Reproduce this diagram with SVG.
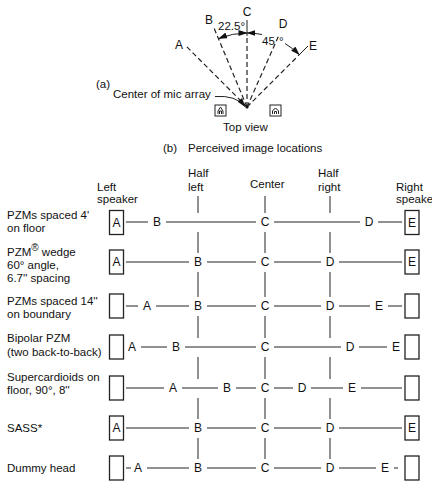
<svg xmlns="http://www.w3.org/2000/svg" width="432" height="496" viewBox="0 0 432 496">
<defs>
<style>
text{font-family:"Liberation Sans",Arial,Helvetica,sans-serif;fill:#111;font-size:11.5px}
.l{font-size:12px;text-anchor:middle}
.ln{stroke:#222;stroke-width:1;fill:none}
.ds{stroke:#222;stroke-width:1.2;fill:none;stroke-dasharray:5,3}
.bx{stroke:#222;stroke-width:1.3;fill:#fff}
.ic{stroke:#222;stroke-width:1;fill:none}
</style>
<marker id="ah" markerUnits="userSpaceOnUse" markerWidth="9" markerHeight="6" refX="8.5" refY="3" orient="auto-start-reverse" viewBox="0 0 9 6">
<path d="M0,0 L9,3 L0,6 z" fill="#111"/>
</marker>
</defs>
<rect width="432" height="496" fill="#fff"/>

<!-- (a) top view -->
<g id="top-view">
<text x="96" y="88">(a)</text>
<g id="rays">
<path class="ds" d="M247 107 L186 46"/>
<path class="ds" d="M247 107 L214 28"/>
<path class="ds" d="M247 107 L247 36"/>
<path class="ln" d="M247 36 L247 20"/>
<path class="ds" d="M247 107 L279 35"/>
<path class="ds" d="M247 107 L298 56"/>
<path class="ln" d="M298 56 L308 46" stroke-width="1.3"/>
</g>
<text class="l" x="179" y="48.5">A</text>
<text class="l" x="209" y="23.5">B</text>
<text class="l" x="247" y="16">C</text>
<text class="l" x="283" y="27.5">D</text>
<text class="l" x="313" y="49.5">E</text>
<text x="218" y="29.5" font-size="11">22.5°</text>
<text x="262" y="44.5" font-size="11">45</text>
<text x="279" y="44.5" font-size="11">°</text>
<g id="arcs">
<path class="ln" stroke-width="1.3" d="M247 33 A74 74 0 0 0 218.7 38.6" marker-start="url(#ah)" marker-end="url(#ah)"/>
<path class="ln" stroke-width="1.3" d="M247 33 A74 74 0 0 1 262 34.5" marker-start="url(#ah)"/>
<path class="ln" stroke-width="1.3" d="M285.1 43.6 A74 74 0 0 1 299.3 54.7" marker-end="url(#ah)"/>
</g>
<text x="113" y="98">Center of mic array</text>
<path class="ln" d="M215 96.5 Q236 95 245 106.5" marker-end="url(#ah)"/>
<circle cx="247" cy="107" r="1.6" fill="#111"/>
<g id="spk-left-icon">
<rect class="ic" x="215" y="105" width="11" height="11" stroke-width="1.3"/>
<path class="ic" d="M218 114 L218 111 L220.5 107 L223 111 L223 114 M219.5 114 L219.5 111 L221.5 111 L221.5 114"/>
</g>
<g id="spk-right-icon">
<rect class="ic" x="270" y="105" width="11" height="11" stroke-width="1.3"/>
<path class="ic" d="M272.5 114 L272.5 111 Q275.5 106 278.5 111 L278.5 114 M274.5 114 L274.5 111.5 L276.5 111.5 L276.5 114"/>
</g>
<text x="223" y="131">Top view</text>
</g>

<!-- (b) title -->
<text x="163" y="152">(b)</text>
<text x="188" y="152">Perceived image locations</text>

<!-- column headers -->
<g id="headers">
<text x="97" y="191">Left</text>
<text x="97" y="203">speaker</text>
<text x="188" y="177">Half</text>
<text x="188" y="191">left</text>
<text x="250" y="188">Center</text>
<text x="318" y="177">Half</text>
<text x="318" y="191">right</text>
<text x="396" y="191">Right</text>
<text x="396" y="203">speaker</text>
</g>

<!-- row labels -->
<g id="row-labels">
<text x="7" y="219">PZMs spaced 4'</text>
<text x="7" y="232">on floor</text>
<text x="7" y="256">PZM<tspan font-size="10" dy="-5">®</tspan><tspan dy="5">  wedge</tspan></text>
<text x="7" y="269">60° angle,</text>
<text x="7" y="282">6.7'' spacing</text>
<text x="7" y="305">PZMs spaced 14''</text>
<text x="7" y="318">on boundary</text>
<text x="7" y="342">Bipolar PZM</text>
<text x="7" y="356">(two back-to-back)</text>
<text x="7" y="381">Supercardioids on</text>
<text x="7" y="394">floor, 90°, 8''</text>
<text x="7" y="432">SASS*</text>
<text x="7" y="472">Dummy head</text>
</g>

<!-- connectors -->
<g id="connectors">
<path class="ln" d="M198 196 V213 M198 232 V253 M198 272 V297 M198 316 V338 M198 357 V379 M198 398 V419 M198 438 V459"/>
<path class="ln" d="M265 196 V213 M265 232 V253 M265 272 V297 M265 316 V338 M265 357 V379 M265 398 V419 M265 438 V459"/>
<path class="ln" d="M330 196 V213 M330 232 V253 M330 272 V297 M330 316 V338 M330 357 V379 M330 398 V419 M330 438 V459"/>
<path class="ln" d="M126 222 H148 M166 222 H256 M274 222 H360 M378 222 H402"/>
<path class="ln" d="M126 262 H189 M207 262 H256 M274 262 H321 M339 262 H402"/>
<path class="ln" d="M126 306 H138 M156 306 H189 M207 306 H256 M274 306 H321 M339 306 H370 M388 306 H402"/>
<path class="ln" d="M141 347 H167 M185 347 H256 M274 347 H341 M359 347 H387"/>
<path class="ln" d="M126 388 H164 M182 388 H218 M236 388 H256 M274 388 H293 M311 388 H343 M361 388 H402"/>
<path class="ln" d="M126 428 H189 M207 428 H256 M274 428 H321 M339 428 H402"/>
<path class="ln" d="M126 468 H131 M147 468 H189 M207 468 H256 M274 468 H321 M339 468 H376 M394 468 H398"/>
</g>

<!-- speaker boxes -->
<g id="boxes">
<g id="row1-left"><rect class="bx" x="109.5" y="210.5" width="14" height="24"/><text class="l" x="116.5" y="226.5">A</text></g>
<g id="row1-right"><rect class="bx" x="405" y="210.5" width="14" height="24"/><text class="l" x="412" y="226.5">E</text></g>
<g id="row2-left"><rect class="bx" x="109.5" y="250" width="14" height="24"/><text class="l" x="116.5" y="266">A</text></g>
<g id="row2-right"><rect class="bx" x="405" y="250" width="14" height="24"/><text class="l" x="412" y="266">E</text></g>
<g id="row3-left"><rect class="bx" x="109.5" y="294" width="14" height="24"/></g>
<g id="row3-right"><rect class="bx" x="405" y="294" width="14" height="24"/></g>
<g id="row4-left"><rect class="bx" x="109.5" y="335" width="14" height="24"/></g>
<g id="row4-right"><rect class="bx" x="405" y="335" width="14" height="24"/></g>
<g id="row5-left"><rect class="bx" x="109.5" y="376" width="14" height="24"/></g>
<g id="row5-right"><rect class="bx" x="405" y="376" width="14" height="24"/></g>
<g id="row6-left"><rect class="bx" x="109.5" y="416" width="14" height="24"/><text class="l" x="116.5" y="432">A</text></g>
<g id="row6-right"><rect class="bx" x="405" y="416" width="14" height="24"/><text class="l" x="412" y="432">E</text></g>
<g id="row7-left"><rect class="bx" x="109.5" y="456" width="14" height="24"/></g>
<g id="row7-right"><rect class="bx" x="405" y="456" width="14" height="24"/></g>
</g>

<!-- image location letters -->
<g id="letters">
<g id="row1-letters"><text class="l" x="157" y="226">B</text><text class="l" x="265" y="226">C</text><text class="l" x="369" y="226">D</text></g>
<g id="row2-letters"><text class="l" x="198" y="266">B</text><text class="l" x="265" y="266">C</text><text class="l" x="330" y="266">D</text></g>
<g id="row3-letters"><text class="l" x="147" y="310">A</text><text class="l" x="198" y="310">B</text><text class="l" x="265" y="310">C</text><text class="l" x="330" y="310">D</text><text class="l" x="379" y="310">E</text></g>
<g id="row4-letters"><text class="l" x="132" y="351">A</text><text class="l" x="176" y="351">B</text><text class="l" x="265" y="351">C</text><text class="l" x="350" y="351">D</text><text class="l" x="396" y="351">E</text></g>
<g id="row5-letters"><text class="l" x="173" y="392">A</text><text class="l" x="227" y="392">B</text><text class="l" x="265" y="392">C</text><text class="l" x="302" y="392">D</text><text class="l" x="352" y="392">E</text></g>
<g id="row6-letters"><text class="l" x="198" y="432">B</text><text class="l" x="265" y="432">C</text><text class="l" x="330" y="432">D</text></g>
<g id="row7-letters"><text class="l" x="138" y="472">A</text><text class="l" x="198" y="472">B</text><text class="l" x="265" y="472">C</text><text class="l" x="330" y="472">D</text><text class="l" x="385" y="472">E</text></g>
</g>
</svg>
